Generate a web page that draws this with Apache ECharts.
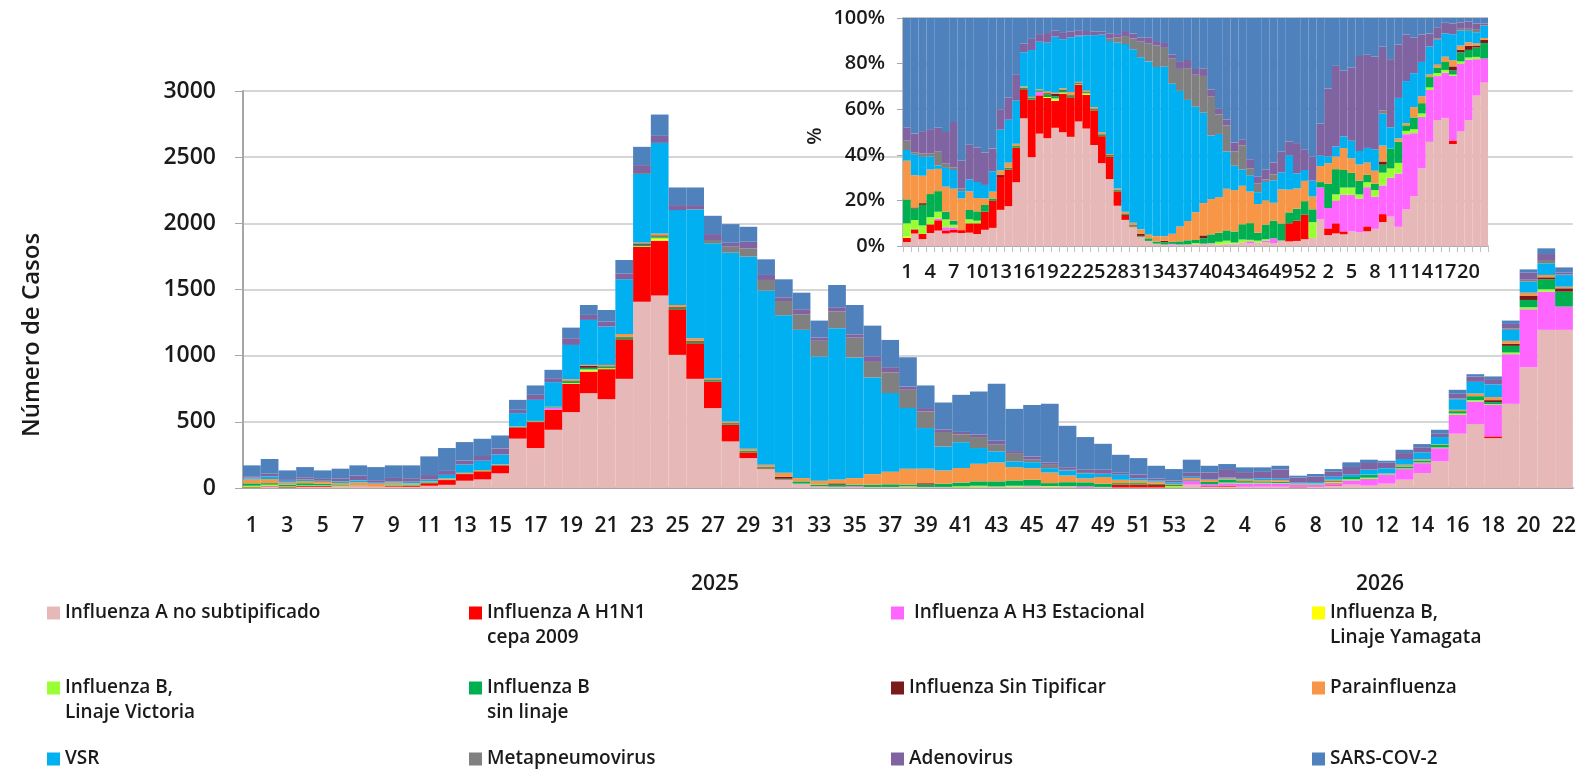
<!DOCTYPE html>
<html><head><meta charset="utf-8">
<script src="https://cdn.jsdelivr.net/npm/echarts@6/dist/echarts.min.js"></script>
<style>html,body{margin:0;padding:0;background:#fff}#c{width:1579px;height:771px}</style>
</head><body><div id="c"></div>
<script>
// Week labels: 2025 weeks 1-53, then 2026 weeks 1-22
const weeks = ['1','2','3','4','5','6','7','8','9','10','11','12','13','14','15','16','17','18','19','20','21','22','23','24','25','26','27','28','29','30','31','32','33','34','35','36','37','38','39','40','41','42','43','44','45','46','47','48','49','50','51','52','53',
  '1','2','3','4','5','6','7','8','9','10','11','12','13','14','15','16','17','18','19','20','21','22'];
const yearLabels = ['2025', '2026'];

const seriesNames = ['Influenza A no subtipificado','Influenza A H1N1 cepa 2009','Influenza A H3 Estacional','Influenza B, Linaje Yamagata','Influenza B, Linaje Victoria','Influenza B sin linaje','Influenza Sin Tipificar','Parainfluenza','VSR','Metapneumovirus','Adenovirus','SARS-COV-2'];
const legendLine1 = ['Influenza A no subtipificado','Influenza A H1N1',' Influenza A H3 Estacional','Influenza B,','Influenza B,','Influenza B','Influenza Sin Tipificar','Parainfluenza','VSR','Metapneumovirus','Adenovirus','SARS-COV-2'];
const legendLine2 = ['', 'cepa 2009', '', 'Linaje Yamagata', 'Linaje Victoria', 'sin linaje', '', '', '', '', '', ''];

const infANoSub = [3,12,4,9,9,8,10,9,10,9,17,24,55,65,111,
  373,302,440,573,717,671,825,1408,1454,1006,
  825,604,352,226,143,62,33,13,10,8,8,8,8,8,8,5,8,8,10,8,10,8,5,8,5,5,5,5,
  25,8,10,8,10,10,6,8,15,25,18,33,63,113,201,410,483,377,636,913,1195,1195];
const infAH1N1 = [3,4,3,6,6,2,2,2,7,8,19,36,50,60,60,
  85,196,150,214,163,227,299,415,415,345,
  269,201,126,43,5,3,0,0,0,0,0,0,0,0,0,0,0,0,0,0,0,0,0,0,20,20,18,0,
  0,5,8,2,0,0,2,0,5,0,0,0,0,0,0,0,0,13,0,0,0,0];
const infAH3 = [0,0,0,0,1,2,2,0,0,0,0,0,0,0,0,
  0,0,14,0,0,0,0,0,0,0,
  0,0,0,0,0,0,0,0,0,5,0,0,0,0,0,0,0,0,0,5,0,3,8,0,0,0,0,0,
  30,15,18,25,25,25,16,15,18,33,50,68,80,75,100,143,171,239,375,438,289,176];
const infBYam = [1,0,0,0,0,0,0,0,0,0,0,0,0,0,0,
  0,0,0,5,8,0,0,0,12,0,
  0,0,0,0,0,0,0,0,0,0,0,0,0,0,0,0,0,0,0,0,0,0,0,0,0,0,0,0,
  0,0,0,0,0,0,0,0,0,0,0,0,0,0,0,0,0,0,0,0,0,0];
const infBVic = [10,9,5,5,4,5,2,0,3,2,0,0,0,0,0,
  0,0,0,0,8,8,0,5,10,0,
  0,0,0,0,0,0,0,0,0,0,0,0,5,0,0,8,9,4,7,4,5,3,0,0,0,0,0,10,
  0,0,5,5,5,3,2,3,8,8,10,3,5,5,5,10,10,5,13,15,18,0];
const infBSinLinaje = [18,11,12,16,12,5,3,0,7,7,7,3,0,3,3,
  5,5,6,15,12,10,15,10,10,12,
  12,10,10,10,8,5,17,12,15,12,17,20,13,18,25,28,33,38,40,46,22,30,30,25,12,12,10,8,
  5,18,20,12,10,10,3,3,5,17,20,5,15,15,20,18,30,15,50,55,75,113];
const infSinTip = [0,1,1,0,0,0,0,0,0,0,0,0,3,0,0,
  0,0,0,5,15,4,5,10,8,5,
  6,5,5,3,5,15,0,0,10,0,0,0,0,10,0,0,0,0,0,0,0,0,0,0,0,0,0,0,
  0,0,0,0,0,0,0,0,2,0,0,0,0,0,0,0,0,15,15,30,15,25];
const parainfluenza = [29,31,16,17,13,16,24,22,14,10,7,9,7,8,4,
  3,4,4,10,7,10,20,8,15,15,
  20,10,10,15,15,30,25,30,30,50,80,95,120,110,100,110,133,143,101,87,80,50,30,50,25,20,15,8,
  15,15,10,15,10,12,5,6,10,0,3,2,13,10,5,10,20,23,23,25,18,12];
const vsr = [8,20,11,9,2,12,14,5,9,12,14,27,62,70,75,
  100,159,186,259,340,290,413,516,684,717,
  973,1019,1275,1451,1315,1190,1120,938,1142,910,730,594,458,307,180,195,119,84,43,45,33,38,38,25,38,15,8,10,
  10,5,8,8,12,10,6,10,20,18,38,38,43,50,54,80,88,96,83,83,88,88];
const metapneumovirus = [7,2,2,2,8,3,2,2,0,0,0,0,0,0,0,
  0,0,0,0,0,0,0,8,0,0,
  0,25,45,63,81,108,118,119,126,151,118,156,138,125,110,60,83,50,63,19,25,5,10,0,0,0,0,0,
  0,0,0,0,0,0,0,0,2,0,0,0,0,0,0,5,0,0,10,15,25,5];
const adenovirus = [10,18,13,17,14,20,34,19,26,26,34,30,31,36,45,
  25,38,30,51,38,37,45,60,53,38,
  33,45,30,50,38,28,38,25,33,25,42,40,25,26,20,18,20,30,15,25,18,20,20,30,15,30,15,15,
  30,50,64,45,50,70,38,43,40,58,50,42,45,40,25,36,40,40,35,53,45,13];
const sarsCov2 = [82,111,66,77,64,73,78,99,95,97,141,173,139,130,99,
  75,71,63,80,75,88,101,138,161,133,
  133,138,141,113,118,136,125,128,168,222,232,206,221,171,203,280,324,430,319,389,443,313,244,196,136,124,97,87,
  99,52,38,36,34,28,15,18,18,35,25,15,25,24,30,30,18,20,25,25,43,40];

const seriesValues = [infANoSub, infAH1N1, infAH3, infBYam, infBVic, infBSinLinaje, infSinTip, parainfluenza, vsr, metapneumovirus, adenovirus, sarsCov2];
const colors = ['#E6B9B8','#FF0000','#FF66FF','#FFFF00','#99FF33','#00B050','#7B1A1A','#F79646','#00B0F0','#808080','#8064A2','#4F81BD'];

const FONT = 'Open Sans';
const TXT = '#1a1a1a';
const totals = weeks.map((_, i) => seriesValues.reduce((s, a) => s + a[i], 0));

const series = [];
seriesValues.forEach((arr, k) => {
  series.push({
    name: seriesNames[k], type: 'bar', stack: 'cases', xAxisIndex: 0, yAxisIndex: 0,
    barCategoryGap: '0%', data: arr, itemStyle: { color: colors[k] }, emphasis: { disabled: true }
  });
});
seriesValues.forEach((arr, k) => {
  series.push({
    name: seriesNames[k], type: 'bar', stack: 'pct', xAxisIndex: 1, yAxisIndex: 1,
    barCategoryGap: '0%', data: arr.map((v, i) => v / totals[i] * 100), itemStyle: { color: colors[k] }, emphasis: { disabled: true }
  });
});

const colLeft = [47, 469, 891, 1312];
const rowCenter = [613, 688, 759];
const legends = seriesNames.map((n, k) => ({
  data: [n], left: colLeft[k % 4], top: rowCenter[Math.floor(k / 4)] - 10, padding: 0,
  itemWidth: 13, itemHeight: 13, icon: 'rect', selectedMode: false,
  formatter: () => legendLine1[k],
  textStyle: { fontFamily: FONT, fontWeight: 600, fontSize: 19, color: TXT, lineHeight: 20 }
}));

const graphics = [
  { type: 'text', x: 32, y: 335, rotation: Math.PI / 2, style: { text: 'Número de Casos', font: '600 24px "Open Sans"', fill: TXT, align: 'center', verticalAlign: 'middle' } },
  { type: 'text', x: 715, y: 584, style: { text: yearLabels[0], font: '600 21px "Open Sans"', fill: TXT, align: 'center', verticalAlign: 'middle' } },
  { type: 'text', x: 1380, y: 584, style: { text: yearLabels[1], font: '600 21px "Open Sans"', fill: TXT, align: 'center', verticalAlign: 'middle' } },
  { type: 'text', x: 815, y: 136, rotation: Math.PI / 2, style: { text: '%', font: '600 20px "Open Sans"', fill: TXT, align: 'center', verticalAlign: 'middle' } }
];
legendLine2.forEach((t, k) => {
  if (!t) return;
  graphics.push({ type: 'text', x: colLeft[k % 4] + 18, y: rowCenter[Math.floor(k / 4)] + 25,
    style: { text: t, font: '600 19px "Open Sans"', fill: TXT, align: 'left', verticalAlign: 'middle' } });
});

const chart = echarts.init(document.getElementById('c'), null, { renderer: 'canvas' });
chart.setOption({
  animation: false,
  backgroundColor: '#ffffff',
  grid: [
    { left: 243, right: 5, top: 91, bottom: 283, containLabel: false },
    { left: 903, right: 91, top: 18, bottom: 525, containLabel: false }
  ],
  xAxis: [
    { type: 'category', gridIndex: 0, data: weeks,
      axisLine: { lineStyle: { color: '#A6A6A6', width: 2 } }, axisTick: { show: false },
      axisLabel: { interval: 1, margin: 28, fontFamily: FONT, fontWeight: 600, fontSize: 21, color: TXT } },
    { type: 'category', gridIndex: 1, data: weeks,
      axisLine: { lineStyle: { color: '#A6A6A6', width: 1.5 } },
      axisTick: { show: true, interval: 0, length: 6, lineStyle: { color: '#BFBFBF' } },
      axisLabel: { interval: 2, margin: 16, fontFamily: FONT, fontWeight: 600, fontSize: 20, color: TXT } }
  ],
  yAxis: [
    { type: 'value', gridIndex: 0, min: 0, max: 3000, interval: 500,
      axisLine: { show: true, lineStyle: { color: '#A6A6A6', width: 2 } },
      axisTick: { show: true, length: 8, lineStyle: { color: '#A6A6A6' } },
      splitLine: { lineStyle: { color: '#C8C8C8', width: 1.5 } },
      axisLabel: { margin: 27, formatter: v => String(v), fontFamily: FONT, fontWeight: 600, fontSize: 23, color: TXT } },
    { type: 'value', gridIndex: 1, min: 0, max: 100, interval: 20,
      axisLine: { show: true, lineStyle: { color: '#A6A6A6', width: 1.5 } },
      axisTick: { show: true, length: 6, lineStyle: { color: '#A6A6A6' } },
      splitLine: { lineStyle: { color: '#B0B0B0', width: 1.5 } },
      axisLabel: { margin: 18, formatter: '{value}%', fontFamily: FONT, fontWeight: 600, fontSize: 20, color: TXT } }
  ],
  legend: legends,
  graphic: graphics,
  series: series
});
</script>
</body></html>
